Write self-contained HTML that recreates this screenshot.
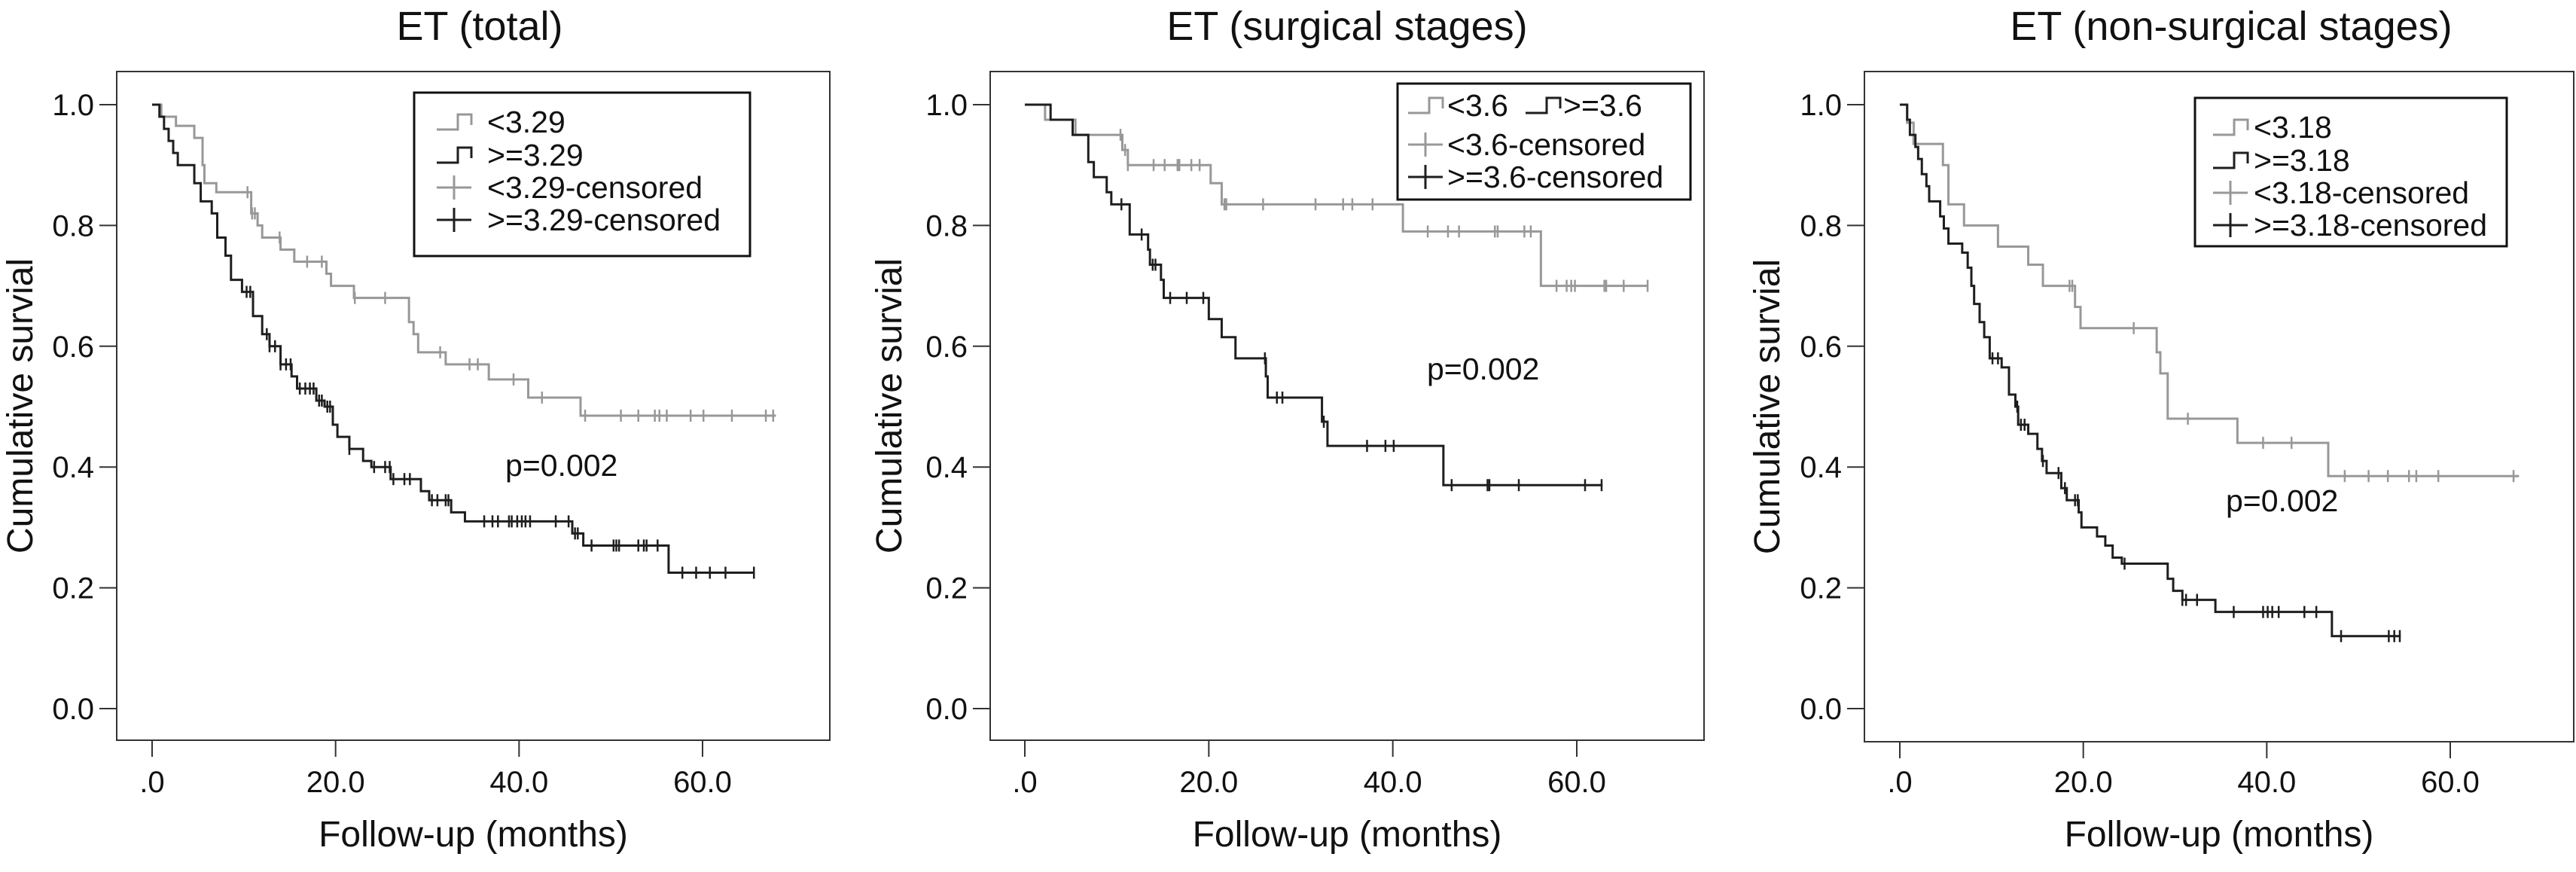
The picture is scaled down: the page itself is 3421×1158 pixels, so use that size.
<!DOCTYPE html>
<html><head><meta charset="utf-8"><style>
html,body{margin:0;padding:0;background:#fff;}
svg{display:block;font-family:"Liberation Sans",Arial,sans-serif;}
</style></head><body>
<svg id="chart" width="3421" height="1158" viewBox="0 0 3421 1158" xmlns="http://www.w3.org/2000/svg"></svg>
<script>
// ---------- data ----------
const xTicks = [0, 20, 40, 60];
const xTickLabels = [".0", "20.0", "40.0", "60.0"];
const yTicks = [0, 0.2, 0.4, 0.6, 0.8, 1.0];
const yTickLabels = ["0.0", "0.2", "0.4", "0.6", "0.8", "1.0"];

const titles = ["ET (total)", "ET (surgical stages)", "ET (non-surgical stages)"];

// Panel 1 (total)
const p1LowSteps = [[1,0.98],[2.6,0.965],[4.6,0.945],[5.5,0.90],[5.7,0.87],[7,0.855],[10.8,0.82],[11.5,0.80],[12,0.78],[14,0.76],[15.5,0.74],[19,0.72],[19.5,0.70],[22,0.68],[28,0.64],[28.5,0.62],[29,0.59],[32,0.57],[36.7,0.545],[41,0.515],[46.7,0.485]];
const p1LowEnd = 68;
const p1LowCens = [10.4,10.9,11.2,13.9,16.9,18.5,22.1,25.4,31.4,34.6,35.5,39.4,42.5,47.2,51.1,53.0,54.8,55.3,56.1,58.7,60.1,63.2,66.9,67.7];
const p1HighSteps = [[0.8,0.98],[1.3,0.96],[1.8,0.94],[2.3,0.92],[2.8,0.90],[4.6,0.87],[5.3,0.84],[6.5,0.82],[7.1,0.78],[8,0.75],[8.6,0.71],[9.8,0.69],[11,0.65],[12,0.62],[12.8,0.60],[14,0.57],[15.2,0.55],[15.8,0.53],[17.9,0.51],[18.8,0.50],[19.7,0.47],[20.2,0.45],[21.5,0.43],[23,0.41],[23.9,0.40],[26,0.38],[29.3,0.36],[30.2,0.345],[32.6,0.325],[34.1,0.31],[45.8,0.29],[47,0.27],[56.3,0.225]];
const p1HighEnd = 65.6;
const p1HighCens = [10.3,10.7,12.5,12.8,13.4,14.0,14.6,15.1,16.1,16.7,17.2,17.6,18.2,18.5,19.1,19.4,21.5,24.2,25.4,25.9,26.3,27.5,28.1,30.5,31.1,32.0,32.3,36.2,37.1,37.7,38.9,39.2,39.8,40.3,40.7,41.2,44.0,45.4,46.1,46.4,47.9,50.3,50.6,50.9,53.0,53.6,53.9,55.1,57.8,59.3,60.8,62.5,65.6];

// Panel 2 (surgical)
const p2LowSteps = [[2.2,0.975],[5.5,0.95],[10.6,0.925],[11.2,0.90],[20.2,0.87],[21.4,0.835],[41.1,0.79],[56.1,0.70]];
const p2LowEnd = 67.7;
const p2LowCens = [10.4,10.9,11.2,14.0,15.2,16.6,16.8,18.1,19.0,21.7,21.9,25.9,31.6,34.6,35.6,37.8,43.8,46.0,47.2,51.1,51.4,54.3,55.0,57.8,58.9,59.4,59.8,63.0,63.2,65.1,67.7];
const p2HighSteps = [[2.8,0.975],[5.2,0.95],[6.9,0.905],[7.5,0.88],[8.9,0.855],[9.4,0.835],[11.4,0.785],[13.4,0.76],[13.6,0.735],[14.8,0.71],[15.1,0.68],[20.0,0.645],[21.4,0.615],[22.9,0.58],[26.2,0.55],[26.4,0.515],[32.3,0.475],[32.9,0.435],[45.5,0.37]];
const p2HighEnd = 62.8;
const p2HighCens = [10.5,12.7,13.9,14.2,15.8,17.6,19.4,26.1,27.4,28.0,32.5,37.2,39.2,40.1,46.4,50.3,50.5,53.7,60.9,62.7];

// Panel 3 (non-surgical)
const p3LowSteps = [[0.8,0.97],[1.5,0.935],[4.7,0.90],[5.3,0.835],[7.0,0.80],[10.7,0.765],[14.0,0.735],[15.6,0.70],[19.1,0.665],[19.7,0.63],[28.0,0.59],[28.4,0.555],[29.2,0.48],[36.8,0.44],[46.7,0.385]];
const p3LowEnd = 67.5;
const p3LowCens = [18.5,18.8,25.5,31.4,39.6,42.7,48.5,51.1,53.2,55.5,56.3,58.7,66.9];
const p3HighSteps = [[0.8,0.975],[1.1,0.95],[1.7,0.93],[2.0,0.91],[2.4,0.885],[2.9,0.865],[3.2,0.84],[4.4,0.815],[4.8,0.795],[5.3,0.77],[6.8,0.755],[7.4,0.73],[7.8,0.70],[8.1,0.67],[8.7,0.64],[9.2,0.615],[9.8,0.58],[11.1,0.565],[11.9,0.52],[12.6,0.50],[12.9,0.47],[14.0,0.455],[15.0,0.43],[15.5,0.41],[16.0,0.39],[17.6,0.365],[18.2,0.345],[19.5,0.325],[19.8,0.30],[21.5,0.285],[22.4,0.27],[23.2,0.25],[24.2,0.24],[29.2,0.215],[29.8,0.195],[30.8,0.18],[34.4,0.16],[47.1,0.12]];
const p3HighEnd = 54.6;
const p3HighCens = [10.1,10.7,12.8,13.2,13.6,15.6,17.3,18.0,19.1,19.4,24.5,30.8,31.2,32.4,36.4,39.6,40.1,40.6,41.3,44.1,45.4,48.1,53.3,53.9,54.5];

const pValues = ["p=0.002", "p=0.002", "p=0.002"];
const legend1 = ["<3.29", ">=3.29", "<3.29-censored", ">=3.29-censored"];
const legend2 = ["<3.6", ">=3.6", "<3.6-censored", ">=3.6-censored"];
const legend3 = ["<3.18", ">=3.18", "<3.18-censored", ">=3.18-censored"];

// ---------- drawing ----------
const NS = "http://www.w3.org/2000/svg";
const svg = document.getElementById('chart');
const GRAY = "#989898", BLACK = "#1e1e1e";
function mk(tag, attrs, parent, text) {
  const e = document.createElementNS(NS, tag);
  for (const k in attrs) e.setAttribute(k, attrs[k]);
  if (text !== undefined) e.textContent = text;
  (parent || svg).appendChild(e);
  return e;
}

const panels = [
  {box:[155,95,1102,983], x0:202, x60:933, low:[p1LowSteps,p1LowEnd,p1LowCens], high:[p1HighSteps,p1HighEnd,p1HighCens],
   title:titles[0], tcx:637, ytx:26, p:pValues[0], px:671, py:632, leg:legend1, lbox:[550,123,996,340], legType:4},
  {box:[1315,95,2263,983], x0:1361, x60:2094, low:[p2LowSteps,p2LowEnd,p2LowCens], high:[p2HighSteps,p2HighEnd,p2HighCens],
   title:titles[1], tcx:1789, ytx:1180, p:pValues[1], px:1895, py:504, leg:legend2, lbox:[1856,111,2245,265], legType:3},
  {box:[2476,95,3418,985], x0:2523, x60:3254, low:[p3LowSteps,p3LowEnd,p3LowCens], high:[p3HighSteps,p3HighEnd,p3HighCens],
   title:titles[2], tcx:2963, ytx:2346, p:pValues[2], px:2956, py:679, leg:legend3, lbox:[2915,130,3329,327], legType:4}
];

panels.forEach((P, i) => {
  const g = mk('g', {});
  
  
  const X = t => P.x0 + (P.x60 - P.x0) * t / 60;
  const yTop = 139, yBot = 941;
  const Y = s => yBot - (yBot - yTop) * s;
  const [bl, bt, br, bb] = P.box;

  const title = mk('text', {x:P.tcx, y:53, 'font-size':54, 'text-anchor':'middle', fill:'#111'}, g, P.title);
  
  

  const frame = mk('rect', {x:bl, y:bt, width:br-bl, height:bb-bt, fill:'none', stroke:'#333', 'stroke-width':2}, g);
  
  

  yTicks.forEach((v, k) => {
    mk('line', {x1:bl-23, x2:bl, y1:Y(v), y2:Y(v), stroke:'#333', 'stroke-width':2}, g);
    const t = mk('text', {x:bl-30, y:Y(v)+14, 'font-size':40, 'text-anchor':'end', fill:'#111'}, g, yTickLabels[k]);
    
    
  });
  xTicks.forEach((v, k) => {
    mk('line', {x1:X(v), x2:X(v), y1:bb, y2:bb+22, stroke:'#333', 'stroke-width':2}, g);
    const t = mk('text', {x:X(v), y:1052, 'font-size':40, 'text-anchor':'middle', fill:'#111'}, g, xTickLabels[k]);
    
    
  });
  const xt = mk('text', {x:(bl+br)/2, y:1124, 'font-size':48, 'text-anchor':'middle', fill:'#111'}, g, 'Follow-up (months)');
  
  
  const yt = mk('text', {x:0, y:0, 'font-size':48, 'text-anchor':'middle', fill:'#111', transform:`translate(${P.ytx+17},${(bt+bb)/2}) rotate(-90)`}, g, 'Cumulative survial');
  
  

  function curve(d, color, name) {
    const [steps, end, cens] = d;
    let s = 1, path = `M${X(0)},${Y(1)}`;
    steps.forEach(([t, v]) => { path += ` H${X(t)} V${Y(v)}`; s = v; });
    path += ` H${X(end)}`;
    const p = mk('path', {d:path, fill:'none', stroke:color, 'stroke-width':3}, g);
    
    
    cens.forEach(t => {
      let v = 1;
      steps.forEach(([st, sv]) => { if (st <= t) v = sv; });
      const c = mk('line', {x1:X(t), x2:X(t), y1:Y(v)-8, y2:Y(v)+8, stroke:color, 'stroke-width':2.5}, g);
      
      
    });
  }
  curve(P.low, GRAY, 'low-group');
  curve(P.high, BLACK, 'high-group');

  const pt = mk('text', {x:P.px, y:P.py, 'font-size':41, fill:'#111'}, g, P.p);
  
  

  // legend
  const [lx1, ly1, lx2, ly2] = P.lbox;
  const lg = mk('g', {}, g);
  
  
  mk('rect', {x:lx1, y:ly1, width:lx2-lx1, height:ly2-ly1, fill:'#fff', stroke:'#111', 'stroke-width':3}, lg);
  function stepIcon(x, y, color) {
    mk('path', {d:`M${x},${y+10} H${x+28} V${y-10} H${x+46} V${y+4}`, fill:'none', stroke:color, 'stroke-width':3}, lg);
  }
  function censIcon(x, y, color) {
    mk('line', {x1:x, x2:x+46, y1:y, y2:y, stroke:color, 'stroke-width':3}, lg);
    mk('line', {x1:x+23, x2:x+23, y1:y-16, y2:y+16, stroke:color, 'stroke-width':3}, lg);
  }
  function entry(tx, ty, label, name) {
    const t = mk('text', {x:tx, y:ty+14, 'font-size':41, fill:'#111'}, lg, label);
    
    
  }
  if (P.legType === 4) {
    const ix = lx1 + 30, tx = ix + 52 + (i === 0 ? 45 : 0);
    const icx = i === 0 ? lx1 + 30 : lx1 + 24;
    const rows = [ly1 + 39, ly1 + 83, ly1 + 126, ly1 + 169];
    const txx = i === 0 ? lx1 + 97 : lx1 + 78;
    stepIcon(icx, rows[0], GRAY); entry(txx, rows[0], P.leg[0], 'legend-entry-low');
    stepIcon(icx, rows[1], BLACK); entry(txx, rows[1], P.leg[1], 'legend-entry-high');
    censIcon(icx, rows[2], GRAY); entry(txx, rows[2], P.leg[2], 'legend-entry-low-censored');
    censIcon(icx, rows[3], BLACK); entry(txx, rows[3], P.leg[3], 'legend-entry-high-censored');
  } else {
    const icx = lx1 + 14, txx = lx1 + 66;
    const rows = [ly1 + 29, ly1 + 81, ly1 + 124];
    stepIcon(icx, rows[0], GRAY); entry(txx, rows[0], P.leg[0], 'legend-entry-low');
    stepIcon(lx1 + 170, rows[0], BLACK); entry(lx1 + 220, rows[0], P.leg[1], 'legend-entry-high');
    censIcon(icx, rows[1], GRAY); entry(txx, rows[1], P.leg[2], 'legend-entry-low-censored');
    censIcon(icx, rows[2], BLACK); entry(txx, rows[2], P.leg[3], 'legend-entry-high-censored');
  }
});
</script>
</body></html>
